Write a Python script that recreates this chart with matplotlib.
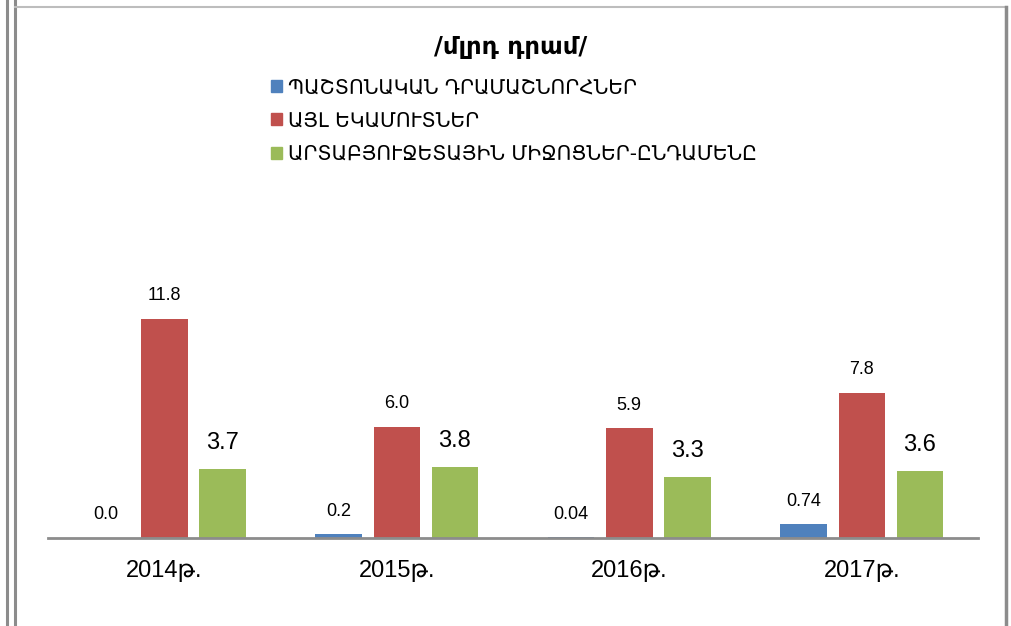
import numpy as np
import matplotlib
matplotlib.use('Agg')
import matplotlib.pyplot as plt
from matplotlib.lines import Line2D

# տվյալներ
years = ['2014թ.', '2015թ.', '2016թ.', '2017թ.']
series_names = ['ՊԱՇՏՈՆԱԿԱՆ ԴՐԱՄԱՇՆՈՐՀՆԵՐ', 'ԱՅԼ ԵԿԱՄՈՒՏՆԵՐ', 'ԱՐՏԱԲՅՈՒՋԵՏԱՅԻՆ ՄԻՋՈՑՆԵՐ-ԸՆԴԱՄԵՆԸ']
grants = [0.0, 0.2, 0.04, 0.74]
other = [11.8, 6.0, 5.9, 7.8]
extra = [3.7, 3.8, 3.3, 3.6]
grant_labels = ['0.0', '0.2', '0.04', '0.74']
other_labels = ['11.8', '6.0', '5.9', '7.8']
extra_labels = ['3.7', '3.8', '3.3', '3.6']

colors = ['#4F81BD', '#C0504D', '#9BBB59']
numfont = ['Liberation Sans Narrow', 'Liberation Sans', 'DejaVu Sans']
armfont = ['DejaVu Sans']

W, H = 1011, 626
fig = plt.figure(figsize=(W / 100, H / 100), dpi=100)

# рамка
for xx, lw in [(7, 2.2), (15, 2.2)]:
    fig.add_artist(Line2D([xx / W, xx / W], [0, 1], color='#8c8c8c', lw=lw, transform=fig.transFigure))
fig.add_artist(Line2D([15 / W, 1006 / W], [1 - 7 / H, 1 - 7 / H], color='#bdbdbd', lw=1.5, transform=fig.transFigure))
fig.add_artist(Line2D([1006 / W, 1006 / W], [0, 1 - 7 / H], color='#8c8c8c', lw=2.5, transform=fig.transFigure))

ax = fig.add_axes([48 / W, 88 / H, 930 / W, 260 / H])
x = np.arange(len(years))
bw = 0.2
step = 0.25
data = [grants, other, extra]
labs = [grant_labels, other_labels, extra_labels]
for k in range(3):
    pos = x + (k - 1) * step
    ax.bar(pos, data[k], width=bw, color=colors[k], label=series_names[k], zorder=2)
    for i in range(len(years)):
        if k == 2:
            ax.text(pos[i], data[k][i] + 1.4, labs[k][i], ha='center', va='center',
                    fontsize=17, family=numfont)
        else:
            ax.text(pos[i], data[k][i] + 1.25, labs[k][i], ha='center', va='center',
                    fontsize=13, family=numfont)

ax.set_xlim(-0.5, 3.5)
ax.set_ylim(0, 14)
for s in ['top', 'right', 'left']:
    ax.spines[s].set_visible(False)
ax.spines['bottom'].set_color('#8c8c8c')
ax.spines['bottom'].set_linewidth(2)
ax.set_yticks([])
ax.set_xticks(x)
ax.set_xticklabels(years, fontsize=17, family=numfont)
ax.tick_params(axis='x', length=0, pad=16)

fig.text(511 / W, 1 - 47 / H, '/մլրդ դրամ/', ha='center', va='center', fontsize=17.5,
         fontweight='bold', family=armfont)

handles = [plt.Rectangle((0, 0), 1, 1, color=c) for c in colors]
leg = fig.legend(handles, series_names, loc='upper left', bbox_to_anchor=(271 / W, 1 - 78 / H),
                 frameon=False, prop={'family': armfont, 'size': 14.5},
                 handlelength=0.55, handleheight=0.55, handletextpad=0.3, labelspacing=0.72,
                 borderaxespad=0, borderpad=0)

fig.savefig('out.png', dpi=100)
